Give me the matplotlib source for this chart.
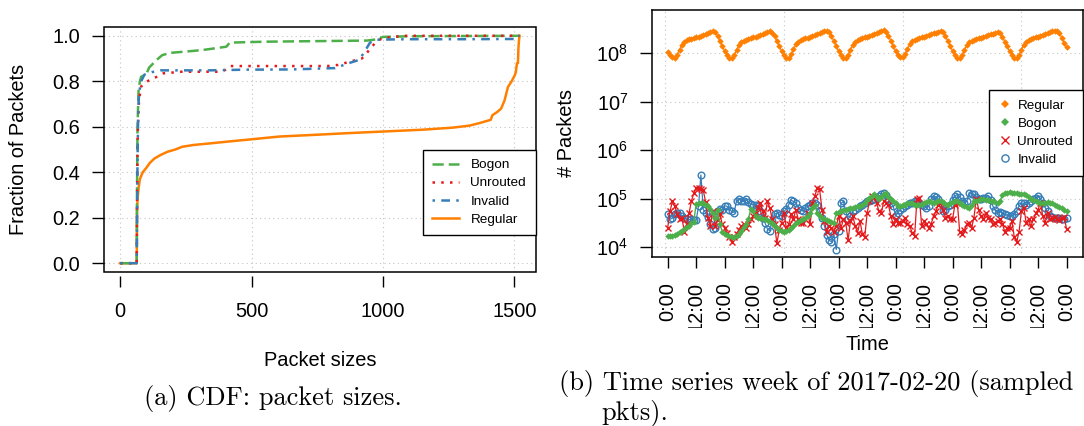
import numpy as np
import matplotlib
matplotlib.use("Agg")
import matplotlib.pyplot as plt
from matplotlib.lines import Line2D
from matplotlib.patches import Rectangle
from matplotlib.ticker import FuncFormatter, NullLocator
from matplotlib.transforms import Bbox, TransformedBbox

plt.rcParams['font.family'] = ['Liberation Sans', 'DejaVu Sans']

# ---------------- colours (ColorBrewer Set1) ----------------
ORANGE = '#FF7F00'
GREEN = '#4DAF4A'
RED = '#E41A1C'
BLUE = '#377EB8'

# ---------------- (a) CDF of packet sizes ----------------
regular_size = [0, 63, 64, 66, 70, 75, 86, 100, 112, 130, 154, 180, 210, 236, 280, 343, 420,
                501, 606, 750, 868, 1000, 1150, 1264, 1330, 1370, 1400, 1410, 1417, 1435,
                1450, 1463, 1476, 1490, 1502, 1506, 1510, 1514, 1516, 1518, 1520]
regular_frac = [0, 0, 0.22, 0.28, 0.33, 0.37, 0.40, 0.42, 0.44, 0.46, 0.476, 0.49, 0.50, 0.512,
                0.52, 0.527, 0.536, 0.545, 0.557, 0.565, 0.572, 0.579, 0.587, 0.596, 0.605,
                0.617, 0.627, 0.63, 0.651, 0.665, 0.68, 0.716, 0.775, 0.80, 0.827, 0.84, 0.878,
                0.88, 0.95, 0.98, 1.0]

bogon_size = [0, 63, 64, 66, 70, 75, 80, 99, 110, 138, 160, 191, 283, 330, 404, 417, 550, 700,
              867, 940, 980, 1000, 1100, 1300, 1520]
bogon_frac = [0, 0, 0.30, 0.60, 0.76, 0.80, 0.82, 0.83, 0.86, 0.893, 0.915, 0.925, 0.934, 0.940,
              0.952, 0.970, 0.974, 0.976, 0.978, 0.979, 0.985, 0.995, 0.998, 0.999, 1.0]

unrouted_size = [0, 63, 64, 66, 68, 72, 80, 90, 112, 140, 165, 234, 300, 380, 400, 417, 600, 789,
                 830, 870, 920, 950, 975, 1000, 1080, 1300, 1520]
unrouted_frac = [0, 0, 0.25, 0.50, 0.62, 0.72, 0.777, 0.79, 0.806, 0.82, 0.835, 0.842, 0.842,
                 0.842, 0.85, 0.867, 0.867, 0.867, 0.872, 0.885, 0.90, 0.94, 0.975, 0.99, 1.0,
                 1.0, 1.0]

invalid_size = [0, 63, 64, 66, 69, 72, 80, 92, 120, 154, 340, 473, 650, 818, 871, 910, 930, 951,
                977, 1100, 1300, 1505, 1512, 1520]
invalid_frac = [0, 0, 0.15, 0.45, 0.68, 0.75, 0.80, 0.829, 0.84, 0.848, 0.848, 0.851, 0.852,
                0.858, 0.88, 0.894, 0.93, 0.97, 0.983, 0.985, 0.985, 0.986, 0.99, 1.0]

cdf_xticks = [0, 500, 1000, 1500]
cdf_yticks = [0.0, 0.2, 0.4, 0.6, 0.8, 1.0]

# ---------------- (b) hourly time series, week of 2017-02-20 ----------------
# Regular packets, millions per hour (169 hourly samples)
regular_m = [
    107, 93, 82, 80, 94, 118, 150, 172, 186, 194, 200, 208, 214, 222, 232, 243, 255, 267, 280, 288, 270, 226, 180, 142,
    112, 92, 80, 80, 92, 117, 148, 170, 183, 192, 198, 205, 212, 220, 229, 240, 251, 263, 275, 282, 268, 225, 178, 140,
    110, 91, 80, 81, 95, 120, 152, 175, 188, 196, 202, 210, 217, 226, 236, 247, 258, 270, 283, 290, 272, 228, 180, 141,
    111, 93, 81, 81, 94, 119, 150, 173, 186, 195, 203, 212, 220, 230, 241, 253, 265, 277, 290, 296, 276, 230, 182, 143,
    112, 94, 82, 82, 96, 122, 153, 176, 190, 198, 205, 213, 221, 229, 238, 248, 258, 268, 280, 288, 270, 226, 179, 142,
    113, 94, 81, 80, 93, 118, 148, 170, 182, 190, 196, 203, 210, 218, 226, 235, 245, 255, 266, 274, 258, 218, 175, 140,
    110, 92, 80, 80, 92, 117, 150, 174, 188, 196, 204, 213, 222, 231, 241, 252, 264, 276, 288, 292, 285, 260, 210, 165,
    132]

# Bogon packets, thousands per hour
bogon_k = [
    17, 17, 17, 18, 19, 21, 22, 24, 26, 28, 31, 34,
    78, 83, 82, 80, 76, 70, 62, 52, 40, 58, 30, 21,
    19, 18, 17, 16, 16, 17, 19, 22, 26, 30, 38, 62,
    55, 44, 41, 40, 39, 38, 36, 33, 31, 27, 25, 23,
    22, 21, 22, 23, 25, 27, 32, 34, 37, 38, 41, 45,
    50, 66, 76, 50, 44, 40, 38, 36, 35, 34, 32, 50,
    54, 56, 58, 60, 62, 64, 66, 68, 70, 72, 76, 80,
    95, 105, 115, 123, 110, 98, 110, 123, 129, 110, 100, 89,
    80, 72, 71, 74, 76, 80, 83, 80, 76, 75, 76, 78,
    83, 86, 89, 86, 83, 85, 88, 89, 84, 78, 76, 83,
    86, 89, 88, 80, 76, 72, 68, 66, 75, 89, 92, 95,
    97, 98, 96, 93, 92, 88, 85, 83, 88, 120, 130, 133,
    135, 134, 132, 130, 128, 125, 123, 120, 110, 100, 95, 90,
    85, 83, 82, 83, 84, 82, 80, 76, 71, 68, 64, 60,
    56]

# Unrouted packets, thousands per hour
unrouted_k = [
    25, 55, 89, 70, 48, 38, 41, 21, 30, 50, 90, 130,
    165, 170, 160, 150, 85, 40, 28, 55, 28, 36, 48, 30,
    25, 20, 16, 13, 16, 19, 23, 27, 30, 25, 30, 38,
    45, 51, 66, 83, 56, 41, 89, 66, 38, 30, 12, 23,
    32, 51, 25, 30, 48, 38, 60, 38, 32, 32, 38, 51,
    30, 83, 115, 165, 156, 60, 35, 21, 27, 25, 21, 27,
    44, 25, 38, 32, 14, 35, 44, 27, 20, 35, 19, 16,
    50, 90, 115, 110, 80, 56, 51, 89, 83, 75, 44, 30,
    38, 32, 32, 35, 41, 30, 27, 20, 17, 98, 105, 27,
    35, 30, 25, 30, 45, 55, 76, 83, 60, 41, 45, 38,
    38, 76, 83, 21, 19, 23, 30, 32, 25, 41, 100, 60,
    44, 38, 51, 41, 38, 30, 32, 35, 38, 30, 21, 25,
    25, 35, 16, 13, 21, 55, 66, 32, 38, 27, 38, 50,
    60, 83, 44, 32, 51, 38, 41, 42, 38, 36, 40, 42,
    24]

# Invalid packets, thousands per hour
invalid_k = [
    48, 38, 40, 48, 52, 50, 44, 40, 38, 37, 38, 36,
    36, 70, 310, 60, 52, 42, 30, 24, 25, 55, 62, 58,
    72, 70, 60, 55, 52, 90, 98, 92, 89, 97, 85, 78,
    76, 74, 71, 56, 40, 32, 24, 22, 35, 48, 51, 47,
    44, 55, 62, 76, 93, 88, 83, 66, 58, 56, 66, 70,
    75, 83, 80, 76, 55, 41, 28, 18, 14, 13, 19, 9,
    22, 80, 89, 55, 38, 45, 55, 60, 66, 70, 76, 83,
    88, 92, 96, 100, 105, 112, 123, 134, 120, 98, 80, 71,
    44, 52, 60, 66, 70, 74, 80, 83, 88, 89, 83, 76,
    70, 66, 71, 100, 115, 108, 98, 83, 56, 60, 70, 76,
    95, 115, 123, 110, 90, 83, 89, 134, 128, 123, 110, 98,
    100, 102, 105, 112, 95, 70, 58, 51, 54, 50, 48, 46,
    44, 44, 48, 56, 71, 83, 80, 76, 80, 90, 98, 106,
    115, 100, 83, 66, 55, 45, 42, 41, 41, 40, 39, 38,
    41]

for s in (regular_m, bogon_k, unrouted_k, invalid_k):
    assert len(s) == 169, len(s)

sample_idx = np.arange(1, 170)                      # hourly sample number
time_tick_idx = sample_idx[::12]                    # every 12 hours
time_tick_labels = ['0:00', '12:00'] * 7 + ['0:00']
grid_idx = [0, 50, 100, 150]
ytick_exp = [4, 5, 6, 7, 8]

# ---------------- figure ----------------
W, H = 1084, 426
fig = plt.figure(figsize=(W / 100, H / 100), dpi=100)


def rect(l, t, r, b):
    return [l / W, 1 - b / H, (r - l) / W, (b - t) / H]


FS = 14.4
LFS = 9.7
GRID = dict(color='#c4c4c4', linestyle=(0, (1, 3)), linewidth=0.8)

# ======== panel (a) ========
ax1 = fig.add_axes(rect(104.2, 26.7, 535.5, 272.3))
ax1.plot(regular_size, regular_frac, color=ORANGE, lw=1.8, ls='-')
ax1.plot(bogon_size, bogon_frac, color=GREEN, lw=1.8, ls=(0, (4.5, 2)))
ax1.plot(unrouted_size, unrouted_frac, color=RED, lw=1.8, ls=(0, (1, 2.5)))
ax1.plot(invalid_size, invalid_frac, color=BLUE, lw=1.8, ls=(0, (1, 2.5, 3.5, 2.5)))
ax1.set_xlim(-60.8, 1580.8)
ax1.set_ylim(-0.04, 1.04)
ax1.set_xticks(cdf_xticks)
ax1.set_yticks(cdf_yticks)
ax1.set_yticklabels(['%.1f' % v for v in cdf_yticks])
ax1.grid(True, **GRID)
ax1.set_axisbelow(True)
for sp in ax1.spines.values():
    sp.set_visible(False)
ax1.spines['bottom'].set_position(('outward', 3))
ax1.add_patch(Rectangle((0, 0), 1, 1, transform=ax1.transAxes, fill=False,
                        ec='black', lw=1.1, clip_on=False, zorder=5))
ax1.tick_params(axis='y', direction='out', length=8.6, width=1, pad=8.6, labelsize=FS)
ax1.tick_params(axis='x', direction='out', length=8, width=1, pad=10.2, labelsize=FS)
ax1.set_xlabel('Packet sizes', fontsize=FS, va='baseline')
ax1.xaxis.set_label_coords(0.5, -(366.5 - 272.3) / 245.6)
ax1.set_ylabel('Fraction of Packets', fontsize=FS, va='center')
ax1.yaxis.set_label_coords((19 - 104.2) / 431.3, 0.5)

h1 = [Line2D([], [], color=GREEN, lw=1.8, ls=(0, (4.5, 2))),
      Line2D([], [], color=RED, lw=1.8, ls=(0, (1, 2.5))),
      Line2D([], [], color=BLUE, lw=1.8, ls=(0, (1, 2.5, 3.5, 2.5))),
      Line2D([], [], color=ORANGE, lw=1.8, ls='-')]
leg1 = ax1.legend(h1, ['Bogon', 'Unrouted', 'Invalid', 'Regular'], loc='upper right',
                  bbox_to_anchor=(1.0, 0.5), borderaxespad=0, fontsize=LFS, fancybox=False,
                  edgecolor='black', framealpha=1, handlelength=2.0, handletextpad=0.85,
                  borderpad=0.7, labelspacing=0.42)
leg1.get_frame().set_linewidth(1.0)

# ======== panel (b) ========
ax2 = fig.add_axes(rect(651.7, 10.0, 1082.5, 256.7))
ax2.plot(sample_idx, np.array(regular_m) * 1e6, color=ORANGE, lw=1.0, marker='D', ms=3.3, mew=0)
ax2.plot(sample_idx, np.array(invalid_k) * 1e3, color=BLUE, lw=0.9, marker='o', ms=4.8,
         mfc='none', mew=1.0)
ax2.plot(sample_idx, np.array(unrouted_k) * 1e3, color=RED, lw=0.9, marker='x', ms=4.6, mew=1.0)
ax2.plot(sample_idx, np.array(bogon_k) * 1e3, color=GREEN, lw=1.0, marker='D', ms=3.3, mew=0)
ax2.set_yscale('log')
ax2.set_xlim(-5.72, 175.72)
ax2.set_ylim(10 ** 3.806, 10 ** 8.893)
ax2.set_yticks([10.0 ** e for e in ytick_exp])
ax2.yaxis.set_minor_locator(NullLocator())
ax2.yaxis.set_major_formatter(FuncFormatter(lambda v, p: r'$\mathregular{10^{%d}}$' % round(np.log10(v))))
ax2.set_xticks(time_tick_idx)
ax2.set_xticklabels(time_tick_labels, rotation=90)
ax2.set_xticks(grid_idx, minor=True)
ax2.grid(True, which='minor', axis='x', **GRID)
ax2.grid(True, which='major', axis='y', **GRID)
ax2.set_axisbelow(True)
for sp in ax2.spines.values():
    sp.set_linewidth(1.1)
ax2.tick_params(axis='x', which='minor', length=0)
ax2.tick_params(axis='x', which='major', direction='out', length=8, width=1, pad=10, labelsize=FS)
ax2.tick_params(axis='y', direction='out', length=9, width=1, pad=8, labelsize=FS)
ax2.set_xlabel('Time', fontsize=FS, va='baseline')
ax2.xaxis.set_label_coords(0.5, -(350.5 - 256.7) / 246.7)
ax2.set_ylabel('# Packets', fontsize=FS, va='center')
ax2.yaxis.set_label_coords((567 - 651.7) / 430.8, 0.5)

# the long "12:00" labels are cut off just above the axis title, as in the original
clip = TransformedBbox(Bbox([[0.5, 1 - 328 / H], [1.0, 1.0]]), fig.transFigure)
for t in ax2.get_xticklabels():
    t.set_clip_box(clip)
    t.set_clip_on(True)

h2 = [Line2D([], [], color=ORANGE, ls='None', marker='D', ms=3.6, mew=0),
      Line2D([], [], color=GREEN, ls='None', marker='D', ms=3.6, mew=0),
      Line2D([], [], color=RED, ls='None', marker='x', ms=5.2, mew=1),
      Line2D([], [], color=BLUE, ls='None', marker='o', ms=5.2, mfc='none', mew=1)]
leg2 = ax2.legend(h2, ['Regular', 'Bogon', 'Unrouted', 'Invalid'], loc='upper right',
                  bbox_to_anchor=(1.0, (256.7 - 90) / 246.7), borderaxespad=0, fontsize=LFS,
                  fancybox=False, edgecolor='black', framealpha=1, handlelength=1.0,
                  handletextpad=0.4, borderpad=0.7, labelspacing=0.42)
leg2.get_frame().set_linewidth(1.0)

# ======== captions ========
CAP = dict(family='cmr10', size=19, va='baseline')
fig.text(272.6 / W, 1 - 405 / H, '(a) CDF: packet sizes.', ha='center', **CAP)
fig.text(558.7 / W, 1 - 390 / H, '(b) Time series week of 2017-02-20 (sampled', ha='left', **CAP)
fig.text(601.5 / W, 1 - 419 / H, 'pkts).', ha='left', **CAP)

fig.savefig('out.png', dpi=100)
